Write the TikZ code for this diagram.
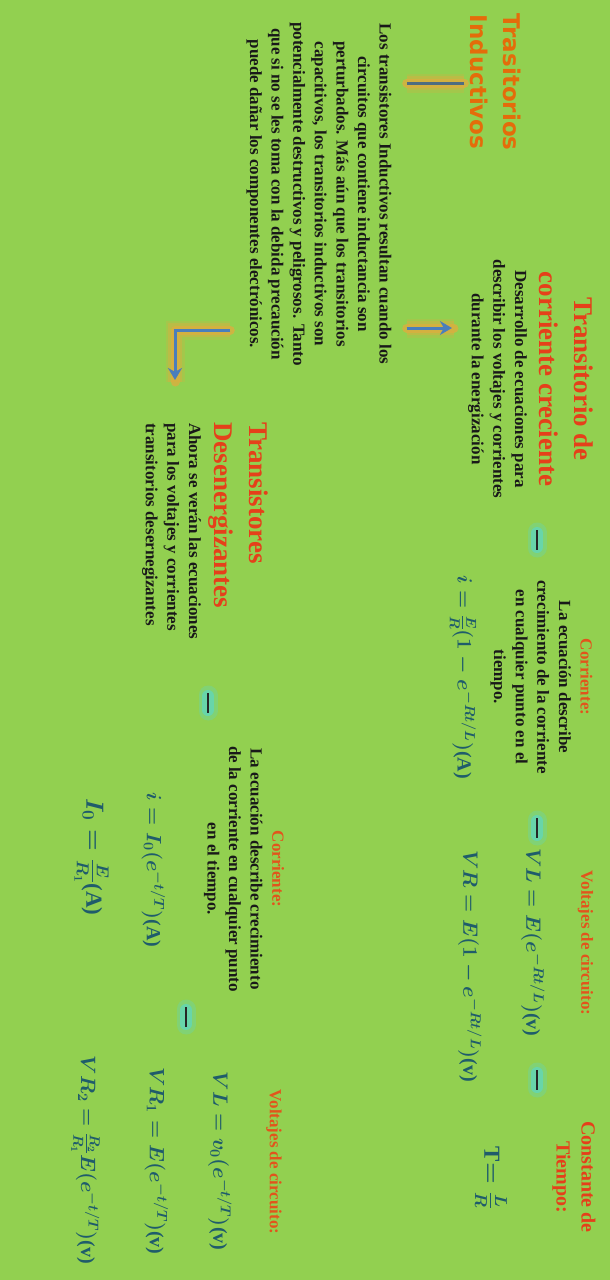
\documentclass[tikz,border=0pt]{standalone}
\usepackage{amsmath}
\usepackage{fontspec}
\setmainfont{Liberation Serif}
\newfontfamily\titlesans{DejaVu Sans}
\usepackage{xcolor}
\usepackage{tikz}
\usetikzlibrary{arrows.meta,positioning,calc}
\definecolor{pgreen}{HTML}{92D050}
\definecolor{porange}{HTML}{E46C0A}
\definecolor{pred}{HTML}{E5401A}
\definecolor{plbl}{HTML}{E2541C}
\definecolor{pteal}{HTML}{1F5C6B}
\definecolor{pblue}{HTML}{4A7EBB}
\definecolor{pslate}{HTML}{4F6D80}
\definecolor{pglow}{HTML}{D8B040}
\definecolor{pmint}{HTML}{62D6B8}
\tikzset{
  % text blocks, all set with no padding so that coordinates hit the glyphs
  ttl/.style   = {font=\titlesans\bfseries\fontsize{23}{33}\selectfont, text=porange,
                  align=center, inner sep=0pt},
  hdr/.style   = {font=\bfseries\fontsize{27}{35}\selectfont, text=pred, inner sep=0pt},
  hdrs/.style  = {font=\bfseries\fontsize{20}{25}\selectfont, text=pred, align=center, inner sep=0pt},
  lbl/.style   = {font=\bfseries\fontsize{17}{21.6}\selectfont, text=plbl, inner sep=0pt},
  txt/.style   = {font=\bfseries\fontsize{17}{21.6}\selectfont, text=black!90, align=center,
                  inner sep=0pt},
  eqn/.style   = {font=\bfseries\boldmath\fontsize{20}{24}\selectfont, text=pteal, inner sep=0pt},
  eqnl/.style  = {eqn, font=\bfseries\boldmath\fontsize{23}{27}\selectfont},
  % connectors; the soft halo is built from a few wide, faint strokes
  glow/.style  = {line width=9pt, line cap=round, line join=round, pglow, opacity=.85,
                  preaction={draw, pglow, opacity=.25, line width=19pt},
                  preaction={draw, pglow, opacity=.45, line width=14pt}},
  arr/.style   = {-{Stealth[length=12pt,width=14pt]}, line width=3pt, pblue},
  bar/.style   = {line width=3pt, pslate},
  cue/.style   = {line width=2.6pt, black!85,
                  preaction={draw, pmint, opacity=.35, line width=19pt, line cap=round,
                             shorten <=2pt, shorten >=2pt},
                  preaction={draw, pmint, opacity=.8, line width=12pt, line cap=round,
                             shorten <=3pt, shorten >=3pt}},
}

\begin{document}
\begin{tikzpicture}[x=1pt,y=1pt]
\begin{scope}[rotate=-90, transform shape]
\fill[pgreen] (0,0) rectangle (1280,610);

% left column
\node[ttl] (titulo) at (82,496) {Trasitorios\\Inductivos};
\node[txt] (body) at (194,319) {Los transistores Inductivos resultan cuando los\\
  circuitos que contiene inductancia son\\perturbados. Más aún que los transitorios\\
  capacitivos, los transitorios inductivos son\\potencialmente destructivos y peligrosos. Tanto\\
  que si no se les toma con la debida precaución\\puede dañar los componentes electrónicos.};

% energizing branch
\node[hdr, align=center] (cretitle) at (379,566) {Transitorio de\\corriente creciente};
\node[txt] (cretext) at (379,497.5) {Desarrollo de ecuaciones para\\describir los voltajes y corrientes\\
  durante la energización};
\node[txt] (corr) at (677,541.5) {\textcolor{plbl}{Corriente:}\\La ecuación describe\\
  crecimiento de la corriente\\en cualquier punto en el\\tiempo.};
\node[eqn] (eqi) at (677,463) {$i=\frac{E}{R}(1-e^{-Rt/L})$(A)};
\node[lbl] (volt) at (943,585.5) {Voltajes de circuito:};
\node[eqn, anchor=west] (eqvl) at (848,533) {$VL=E(e^{-Rt/L})$(v)};
\node[eqn, anchor=west] (eqvr) at (850,470) {$VR=E(1-e^{-Rt/L})$(v)};
\node[hdrs] (const) at (1177,574) {Constante de\\Tiempo:};
\node[eqnl] (eqt) at (1178,491) {T$=\frac{L}{R}$};

% de-energizing branch
\node[hdr, anchor=west, align=left] (destitle) at (422,238.5) {Transistores\\Desenergizantes};
\node[txt, anchor=west, align=left] (destext) at (423,171.5) {Ahora se verán las ecuaciones\\
  para los voltajes y corrientes\\transitorios desernegizantes};
\node[txt] (corr2) at (869,244) {\textcolor{plbl}{Corriente:}\\La ecuación describe crecimiento\\
  de la corriente en cualquier punto\\en el tiempo.};
\node[eqn, anchor=west] (eqi2) at (792,153.5) {$i=I_0(e^{-t/T})$(A)};
\node[eqnl, anchor=west] (eqio) at (798,91.5) {$I_0=\frac{E}{R_1}$(A)};
\node[lbl] (volt2) at (1162,274) {Voltajes de circuito:};
\node[eqn] (eqvl2) at (1161,220) {$VL=v_0(e^{-t/T})$(v)};
\node[eqn] (eqvr1) at (1161,156.5) {$VR_1=E(e^{-t/T})$(v)};
\node[eqn] (eqvr2) at (1160,85.5) {$VR_2=\frac{R_2}{R_1}E(e^{-t/T})$(v)};

% connectors from the body text
\coordinate (b0) at (83,0);
\coordinate (a1) at (328,0);
\coordinate (bend) at (330,175);
\draw[glow, shorten <=6pt, shorten >=15pt] (b0 |- titulo.south) -- (b0 |- body.north);
\draw[bar, shorten <=6pt, shorten >=15pt] (b0 |- titulo.south) -- (b0 |- body.north);
\draw[glow, shorten <=15pt, shorten >=14pt] (a1 |- body.north) -- (a1 |- cretext.south);
\draw[arr, shorten <=15pt, shorten >=16pt] (a1 |- body.north) -- (a1 |- cretext.south);
\draw[glow, shorten <=16pt, shorten >=41pt] (bend |- body.south) -- (bend) -- (bend -| destext.west);
\draw[arr, shorten <=16pt, shorten >=43pt] (bend |- body.south) -- (bend) -- (bend -| destext.west);

% short marks between the blocks
\coordinate (m1a) at (530,537);  \coordinate (m1b) at (550,537);
\coordinate (m2a) at (693,208);  \coordinate (m2b) at (713,208);
\coordinate (m3a) at (818,537);  \coordinate (m3b) at (838,537);
\coordinate (m4a) at (1070,537); \coordinate (m4b) at (1090,537);
\coordinate (m5a) at (1007,186); \coordinate (m5b) at (1027,186);
\foreach \m in {m1,m2,m3,m4,m5}
  \draw[cue] (\m a) -- (\m b);
\end{scope}
\end{tikzpicture}
\end{document}
